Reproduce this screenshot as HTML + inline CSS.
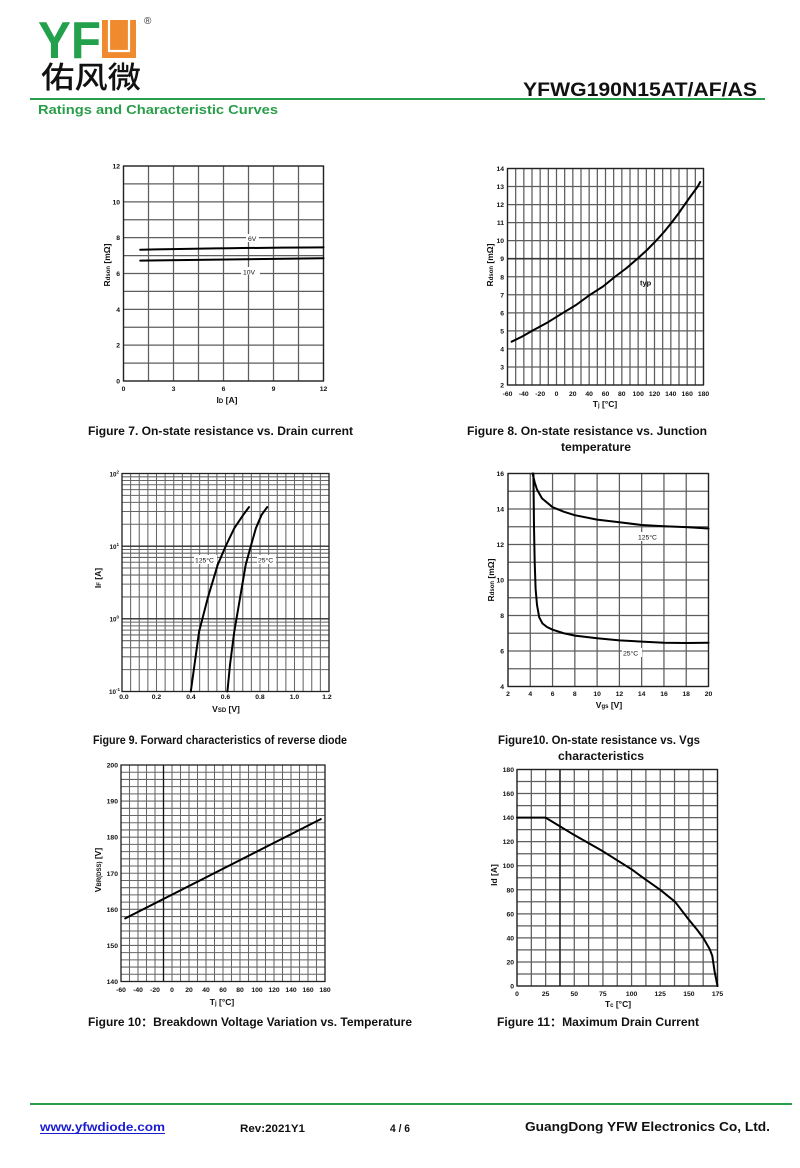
<!DOCTYPE html>
<html><head><meta charset="utf-8">
<style>
html,body{margin:0;padding:0;background:#fff;}
svg{display:block;}
text{font-family:"Liberation Sans",Arial,"Noto Sans CJK SC",sans-serif;font-weight:bold;fill:#111;}
.t{font-size:6.8px;}
.ax{font-size:8.5px;}
.cap{font-size:11.5px;}
.g{fill:none;stroke:#5e5e5e;stroke-width:1.25;}
.gd{fill:none;stroke:#666;stroke-width:1.05;}
.bd{fill:none;stroke:#222;stroke-width:1.3;}
.cv{fill:none;stroke:#000;stroke-width:2;stroke-linejoin:round;stroke-linecap:round;}
</style></head>
<body>
<svg width="800" height="1168" viewBox="0 0 800 1168" xmlns="http://www.w3.org/2000/svg">
<rect width="800" height="1168" fill="#fff"/>

<!-- HEADER -->
<text x="38" y="58" font-size="52" style="fill:#23a04b" textLength="63" lengthAdjust="spacingAndGlyphs">YF</text>
<rect x="102" y="20" width="34" height="38" fill="#ef8a2e"/>
<path d="M109,20V51H129V20" fill="none" stroke="#fff" stroke-width="2.2"/>
<text x="144" y="24" font-size="10" style="font-weight:normal;fill:#333">®</text>
<text x="41" y="88" font-size="30" style="font-family:'Noto Sans CJK SC','WenQuanYi Zen Hei',sans-serif;font-weight:500;fill:#111" textLength="100" lengthAdjust="spacingAndGlyphs">佑风微</text>
<text x="523" y="96" font-size="19" textLength="234" lengthAdjust="spacingAndGlyphs">YFWG190N15AT/AF/AS</text>
<line x1="30" y1="99" x2="765" y2="99" stroke="#2a9d4a" stroke-width="2"/>
<text x="38" y="114" font-size="12.5" style="fill:#2a9d4a" textLength="240" lengthAdjust="spacingAndGlyphs">Ratings and Characteristic Curves</text>

<!-- FIG 7 -->
<path class="g" d="M123.5,166v215m25,-215v215m25,-215v215m25,-215v215m25,-215v215m25,-215v215m25,-215v215m25,-215v215m25,-215v215"/>
<path class="g" d="M123.5,166h200m-200,17.917h200m-200,17.917h200m-200,17.917h200m-200,17.917h200m-200,17.917h200m-200,17.917h200m-200,17.917h200m-200,17.917h200m-200,17.917h200m-200,17.917h200m-200,17.917h200m-200,17.917h200"/>
<rect class="bd" x="123.5" y="166" width="200" height="215"/>
<g class="t" text-anchor="end">
<text x="120" y="383.5">0</text><text x="120" y="347.7">2</text><text x="120" y="311.8">4</text><text x="120" y="276">6</text><text x="120" y="240.2">8</text><text x="120" y="204.3">10</text><text x="120" y="168.5">12</text>
</g>
<g class="t" text-anchor="middle">
<text x="123.5" y="391">0</text><text x="173.5" y="391">3</text><text x="223.5" y="391">6</text><text x="273.5" y="391">9</text><text x="323.5" y="391">12</text>
</g>
<text class="ax" x="227" y="403" text-anchor="middle">I<tspan font-size="6">D</tspan> [A]</text>
<text class="ax" transform="translate(110,265) rotate(-90)" text-anchor="middle">R<tspan font-size="6">dson</tspan> [mΩ]</text>
<path class="cv" d="M140.2,249.7C200,248.6 260,247.6 323.5,247.4"/>
<path class="cv" d="M140.2,260.6C200,259.6 260,258.6 323.5,258.3"/>
<rect x="246" y="234" width="13" height="8" fill="#fff"/>
<text class="t" x="248" y="241" style="font-weight:normal">6V</text>
<rect x="241" y="267" width="19" height="8" fill="#fff"/>
<text class="t" x="243" y="274.5" style="font-weight:normal">10V</text>

<!-- FIG 8 -->
<path class="g" d="M507.5,168.5v216.5m8.1667,-216.5v216.5m8.1667,-216.5v216.5m8.1667,-216.5v216.5m8.1667,-216.5v216.5m8.1667,-216.5v216.5m8.1667,-216.5v216.5m8.1667,-216.5v216.5m8.1667,-216.5v216.5m8.1667,-216.5v216.5m8.1667,-216.5v216.5m8.1667,-216.5v216.5m8.1667,-216.5v216.5m8.1667,-216.5v216.5m8.1667,-216.5v216.5m8.1667,-216.5v216.5m8.1667,-216.5v216.5m8.1667,-216.5v216.5m8.1667,-216.5v216.5m8.1667,-216.5v216.5m8.1667,-216.5v216.5m8.1667,-216.5v216.5m8.1667,-216.5v216.5m8.1667,-216.5v216.5m8.1667,-216.5v216.5"/>
<path class="g" d="M507.5,168.5h196m-196,18.0417h196m-196,18.0417h196m-196,18.0417h196m-196,18.0417h196m-196,18.0417h196m-196,18.0417h196m-196,18.0417h196m-196,18.0417h196m-196,18.0417h196m-196,18.0417h196m-196,18.0417h196m-196,18.0417h196"/>
<line x1="507.5" y1="258.7" x2="703.5" y2="258.7" stroke="#333" stroke-width="1.6"/>
<rect class="bd" x="507.5" y="168.5" width="196" height="216.5"/>
<g class="t" text-anchor="end">
<text x="504" y="387.5">2</text><text x="504" y="369.5">3</text><text x="504" y="351.4">4</text><text x="504" y="333.4">5</text><text x="504" y="315.3">6</text><text x="504" y="297.3">7</text><text x="504" y="279.3">8</text><text x="504" y="261.2">9</text><text x="504" y="243.2">10</text><text x="504" y="225.1">11</text><text x="504" y="207.1">12</text><text x="504" y="189">13</text><text x="504" y="171">14</text>
</g>
<g class="t" text-anchor="middle">
<text x="507.5" y="396">-60</text><text x="523.8" y="396">-40</text><text x="540.2" y="396">-20</text><text x="556.5" y="396">0</text><text x="572.8" y="396">20</text><text x="589.2" y="396">40</text><text x="605.5" y="396">60</text><text x="621.8" y="396">80</text><text x="638.2" y="396">100</text><text x="654.5" y="396">120</text><text x="670.8" y="396">140</text><text x="687.2" y="396">160</text><text x="703.5" y="396">180</text>
</g>
<text class="ax" x="605" y="407" text-anchor="middle">T<tspan font-size="6">j</tspan> [°C]</text>
<text class="ax" transform="translate(493,265) rotate(-90)" text-anchor="middle">R<tspan font-size="6">dson</tspan> [mΩ]</text>
<polyline class="cv" points="511.6,341.7 522,336.6 532,330.9 548,322.2 563.1,312.8 576,305 590,294.8 603,286.5 615,276.75 626,268.5 637.4,258.7 647,250 656.1,240.7 664,232 671.6,222.6 678.5,213.5 684.7,204.6 691.5,195 697.8,186.5 700.2,182"/>
<text class="t" x="640" y="285.5" style="font-size:7.5px">typ</text>

<!-- FIG 9 -->
<path class="gd" d="M122,473.5v218m8.625,-218v218m8.625,-218v218m8.625,-218v218m8.625,-218v218m8.625,-218v218m8.625,-218v218m8.625,-218v218m8.625,-218v218m8.625,-218v218m8.625,-218v218m8.625,-218v218m8.625,-218v218m8.625,-218v218m8.625,-218v218m8.625,-218v218m8.625,-218v218m8.625,-218v218m8.625,-218v218m8.625,-218v218m8.625,-218v218m8.625,-218v218m8.625,-218v218m8.625,-218v218m8.625,-218v218"/>
<path class="gd" d="M122,691.5h207
m-207,-21.876h207m-207,-12.796h207m-207,-9.079h207m-207,-7.042h207m-207,-5.755h207m-207,-4.864h207m-207,-4.215h207m-207,-3.718h207m-207,-3.325h207
m-207,-21.876h207m-207,-12.796h207m-207,-9.079h207m-207,-7.042h207m-207,-5.755h207m-207,-4.864h207m-207,-4.215h207m-207,-3.718h207m-207,-3.325h207
m-207,-21.876h207m-207,-12.796h207m-207,-9.079h207m-207,-7.042h207m-207,-5.755h207m-207,-4.864h207m-207,-4.215h207m-207,-3.718h207m-207,-3.325h207"/>
<path d="M122,618.8h207M122,546.2h207" stroke="#333" stroke-width="1.4"/>
<rect class="bd" x="122" y="473.5" width="207" height="218"/>
<g class="t" text-anchor="end" style="font-size:6.3px">
<text x="119" y="476.5">10<tspan font-size="4.5" dy="-3">2</tspan></text>
<text x="119" y="549">10<tspan font-size="4.5" dy="-3">1</tspan></text>
<text x="119" y="621.5">10<tspan font-size="4.5" dy="-3">0</tspan></text>
<text x="120" y="694">10<tspan font-size="4.5" dy="-3">-1</tspan></text>
</g>
<g class="t" text-anchor="middle">
<text x="124" y="699">0.0</text><text x="156.5" y="699">0.2</text><text x="191" y="699">0.4</text><text x="225.5" y="699">0.6</text><text x="260" y="699">0.8</text><text x="294.5" y="699">1.0</text><text x="327" y="699">1.2</text>
</g>
<text class="ax" x="226" y="712" text-anchor="middle">V<tspan font-size="6">SD</tspan> [V]</text>
<text class="ax" transform="translate(101,578) rotate(-90)" text-anchor="middle">I<tspan font-size="6">F</tspan> [A]</text>
<polyline class="cv" points="190.8,691.5 194.5,664.8 199.1,631.5 207.7,598.2 217.7,564.8 226,545.5 234.3,528.2 243.3,514.8 249,507.1"/>
<polyline class="cv" points="227.4,691.5 230,664.8 234.3,631.5 240,598.2 245.7,564.8 251,545.5 255.9,528.2 261.6,514.8 267.2,507.1"/>
<rect x="194" y="555" width="23" height="9" fill="#fff"/>
<text class="t" x="195" y="562.5" style="font-weight:normal">125°C</text>
<rect x="257" y="555" width="19" height="9" fill="#fff"/>
<text class="t" x="258" y="562.5" style="font-weight:normal">25°C</text>

<!-- FIG 10 Vgs -->
<path class="g" d="M508,473.5v213m22.278,-213v213m22.278,-213v213m22.278,-213v213m22.278,-213v213m22.278,-213v213m22.278,-213v213m22.278,-213v213m22.278,-213v213m22.278,-213v213"/>
<path class="g" d="M508,473.5h200.5m-200.5,17.75h200.5m-200.5,17.75h200.5m-200.5,17.75h200.5m-200.5,17.75h200.5m-200.5,17.75h200.5m-200.5,17.75h200.5m-200.5,17.75h200.5m-200.5,17.75h200.5m-200.5,17.75h200.5m-200.5,17.75h200.5m-200.5,17.75h200.5m-200.5,17.75h200.5"/>
<rect class="bd" x="508" y="473.5" width="200.5" height="213"/>
<g class="t" text-anchor="end">
<text x="504" y="689">4</text><text x="504" y="653.5">6</text><text x="504" y="618">8</text><text x="504" y="582.5">10</text><text x="504" y="547">12</text><text x="504" y="511.5">14</text><text x="504" y="476">16</text>
</g>
<g class="t" text-anchor="middle">
<text x="508" y="696">2</text><text x="530.3" y="696">4</text><text x="552.6" y="696">6</text><text x="574.8" y="696">8</text><text x="597.1" y="696">10</text><text x="619.4" y="696">12</text><text x="641.7" y="696">14</text><text x="664" y="696">16</text><text x="686.2" y="696">18</text><text x="708.5" y="696">20</text>
</g>
<text class="ax" x="609" y="708" text-anchor="middle">V<tspan font-size="6">gs</tspan> [V]</text>
<text class="ax" transform="translate(494,580) rotate(-90)" text-anchor="middle">R<tspan font-size="6">dson</tspan> [mΩ]</text>
<polyline class="cv" points="532.6,473.5 534.7,482.4 537,489.5 542,498.4 552.6,507.2 563.7,511.7 574.8,515.2 597.1,519.65 619.4,522.3 641.7,525 664,526.2 686.2,527.1 708.5,528.5"/>
<polyline class="cv" points="533.4,473.5 534,526.75 534.7,562.25 535.6,588.9 537,604.85 539.2,617.3 542.5,623.5 547,627 552.6,629.7 563.7,633.25 574.8,635.6 597.1,638.2 619.4,640.35 641.7,641.6 664,642.7 686.2,643 708.5,642.7"/>
<rect x="637" y="532" width="23" height="9" fill="#fff"/>
<text class="t" x="638" y="539.5" style="font-weight:normal">125°C</text>
<rect x="622" y="648" width="20" height="9" fill="#fff"/>
<text class="t" x="623" y="655.5" style="font-weight:normal">25°C</text>

<!-- FIG 10 BV -->
<path class="gd" d="M121,765v216.5m8.5,-216.5v216.5m8.5,-216.5v216.5m8.5,-216.5v216.5m8.5,-216.5v216.5m8.5,-216.5v216.5m8.5,-216.5v216.5m8.5,-216.5v216.5m8.5,-216.5v216.5m8.5,-216.5v216.5m8.5,-216.5v216.5m8.5,-216.5v216.5m8.5,-216.5v216.5m8.5,-216.5v216.5m8.5,-216.5v216.5m8.5,-216.5v216.5m8.5,-216.5v216.5m8.5,-216.5v216.5m8.5,-216.5v216.5m8.5,-216.5v216.5m8.5,-216.5v216.5m8.5,-216.5v216.5m8.5,-216.5v216.5m8.5,-216.5v216.5m8.5,-216.5v216.5"/>
<path class="gd" d="M121,765h204m-204,7.2167h204m-204,7.2167h204m-204,7.2167h204m-204,7.2167h204m-204,7.2167h204m-204,7.2167h204m-204,7.2167h204m-204,7.2167h204m-204,7.2167h204m-204,7.2167h204m-204,7.2167h204m-204,7.2167h204m-204,7.2167h204m-204,7.2167h204m-204,7.2167h204m-204,7.2167h204m-204,7.2167h204m-204,7.2167h204m-204,7.2167h204m-204,7.2167h204m-204,7.2167h204m-204,7.2167h204m-204,7.2167h204m-204,7.2167h204m-204,7.2167h204m-204,7.2167h204m-204,7.2167h204m-204,7.2167h204m-204,7.2167h204m-204,7.2167h204"/>
<line x1="163.5" y1="765" x2="163.5" y2="981.5" stroke="#111" stroke-width="1.3"/>
<rect class="bd" x="121" y="765" width="204" height="216.5"/>
<g class="t" text-anchor="end">
<text x="118" y="984">140</text><text x="118" y="947.9">150</text><text x="118" y="911.8">160</text><text x="118" y="875.8">170</text><text x="118" y="839.7">180</text><text x="118" y="803.6">190</text><text x="118" y="767.5">200</text>
</g>
<g class="t" text-anchor="middle">
<text x="121" y="992">-60</text><text x="138" y="992">-40</text><text x="155" y="992">-20</text><text x="172" y="992">0</text><text x="189" y="992">20</text><text x="206" y="992">40</text><text x="223" y="992">60</text><text x="240" y="992">80</text><text x="257" y="992">100</text><text x="274" y="992">120</text><text x="291" y="992">140</text><text x="308" y="992">160</text><text x="325" y="992">180</text>
</g>
<text class="ax" x="222" y="1005" text-anchor="middle">T<tspan font-size="6">j</tspan> [°C]</text>
<text class="ax" transform="translate(101,870) rotate(-90)" text-anchor="middle">V<tspan font-size="6">BR(DSS)</tspan> [V]</text>
<path class="cv" d="M125.25,918.4L320.75,819.1"/>

<!-- FIG 11 -->
<path class="g" d="M517,769.5v216.5m14.321,-216.5v216.5m14.321,-216.5v216.5m14.321,-216.5v216.5m14.321,-216.5v216.5m14.321,-216.5v216.5m14.321,-216.5v216.5m14.321,-216.5v216.5m14.321,-216.5v216.5m14.321,-216.5v216.5m14.321,-216.5v216.5m14.321,-216.5v216.5m14.321,-216.5v216.5m14.321,-216.5v216.5m14.321,-216.5v216.5"/>
<path class="g" d="M517,769.5h200.5m-200.5,12.028h200.5m-200.5,12.028h200.5m-200.5,12.028h200.5m-200.5,12.028h200.5m-200.5,12.028h200.5m-200.5,12.028h200.5m-200.5,12.028h200.5m-200.5,12.028h200.5m-200.5,12.028h200.5m-200.5,12.028h200.5m-200.5,12.028h200.5m-200.5,12.028h200.5m-200.5,12.028h200.5m-200.5,12.028h200.5m-200.5,12.028h200.5m-200.5,12.028h200.5m-200.5,12.028h200.5m-200.5,12.028h200.5"/>
<line x1="560" y1="769.5" x2="560" y2="986" stroke="#222" stroke-width="1.5"/>
<rect class="bd" x="517" y="769.5" width="200.5" height="216.5"/>
<g class="t" text-anchor="end">
<text x="514" y="988.5">0</text><text x="514" y="964.4">20</text><text x="514" y="940.4">40</text><text x="514" y="916.3">60</text><text x="514" y="892.3">80</text><text x="514" y="868.2">100</text><text x="514" y="844.2">120</text><text x="514" y="820.1">140</text><text x="514" y="796.1">160</text><text x="514" y="772">180</text>
</g>
<g class="t" text-anchor="middle">
<text x="517" y="996">0</text><text x="545.6" y="996">25</text><text x="574.3" y="996">50</text><text x="602.9" y="996">75</text><text x="631.6" y="996">100</text><text x="660.2" y="996">125</text><text x="688.9" y="996">150</text><text x="717.5" y="996">175</text>
</g>
<text class="ax" x="618" y="1007" text-anchor="middle">T<tspan font-size="6">c</tspan> [°C]</text>
<text class="ax" transform="translate(497,875) rotate(-90)" text-anchor="middle">Id [A]</text>
<polyline class="cv" points="517,817.6 545.6,817.6 574.3,835.05 602.9,851.3 631.6,869.3 643,877.7 660.2,889.8 675.1,901.8 688.9,919.8 696.9,929.5 703.2,937.9 709.5,948.7 712.3,955.9 714.6,971.6 717.5,986"/>

<!-- CAPTIONS -->
<text class="cap" x="88" y="435" textLength="265" lengthAdjust="spacingAndGlyphs">Figure 7. On-state resistance vs. Drain current</text>
<text class="cap" x="467" y="435" textLength="240" lengthAdjust="spacingAndGlyphs">Figure 8. On-state resistance vs. Junction</text>
<text class="cap" x="596" y="451" text-anchor="middle" textLength="70" lengthAdjust="spacingAndGlyphs">temperature</text>
<text class="cap" x="93" y="744" textLength="254" lengthAdjust="spacingAndGlyphs">Figure 9. Forward characteristics of reverse diode</text>
<text class="cap" x="498" y="744" textLength="202" lengthAdjust="spacingAndGlyphs">Figure10. On-state resistance vs. Vgs</text>
<text class="cap" x="601" y="760" text-anchor="middle" textLength="86" lengthAdjust="spacingAndGlyphs">characteristics</text>
<text class="cap" x="88" y="1026" textLength="324" lengthAdjust="spacingAndGlyphs">Figure 10：Breakdown Voltage Variation vs. Temperature</text>
<text class="cap" x="497" y="1026" textLength="202" lengthAdjust="spacingAndGlyphs">Figure 11：Maximum Drain Current</text>

<!-- FOOTER -->
<line x1="30" y1="1104" x2="792" y2="1104" stroke="#2a9d4a" stroke-width="2"/>
<text x="40" y="1131" font-size="11.5" style="fill:#1b1bd0" textLength="125" lengthAdjust="spacingAndGlyphs">www.yfwdiode.com</text>
<line x1="40" y1="1133.5" x2="165" y2="1133.5" stroke="#1b1bd0" stroke-width="1"/>
<text x="240" y="1132" font-size="11" textLength="65" lengthAdjust="spacingAndGlyphs">Rev:2021Y1</text>
<text x="390" y="1132" font-size="11" textLength="20" lengthAdjust="spacingAndGlyphs">4 / 6</text>
<text x="525" y="1131" font-size="12.5" textLength="245" lengthAdjust="spacingAndGlyphs">GuangDong YFW Electronics Co, Ltd.</text>
</svg>
</body></html>
